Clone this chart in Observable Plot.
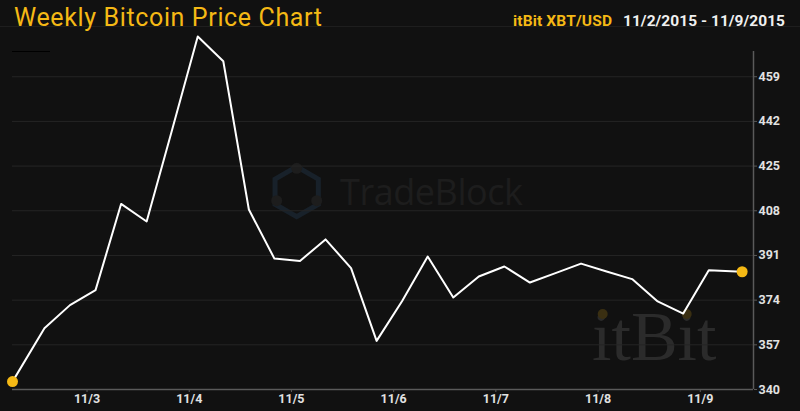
<!DOCTYPE html>
<html><head><meta charset="utf-8">
<script src="https://cdn.jsdelivr.net/npm/d3@7"></script>
<script src="https://cdn.jsdelivr.net/npm/@observablehq/plot@0.6"></script>
<style>
html,body{margin:0;padding:0;background:#111111;}
#wrap{position:relative;width:800px;height:411px;overflow:hidden;background:#111111;}
#deco,#chart{position:absolute;left:0;top:0;}
#chart svg{display:block;}
</style>
</head><body>
<div id="wrap"><svg id="deco" width="800" height="411"></svg><div id="chart"></div></div>
<script>
// ---- data ----
const times = [
  "2015-11-02 06:30","2015-11-02 14:00","2015-11-02 20:00",
  "2015-11-03 02:00","2015-11-03 08:00","2015-11-03 14:00","2015-11-03 20:00",
  "2015-11-04 02:00","2015-11-04 08:00","2015-11-04 14:00","2015-11-04 20:00",
  "2015-11-05 02:00","2015-11-05 08:00","2015-11-05 14:00","2015-11-05 20:00",
  "2015-11-06 02:00","2015-11-06 08:00","2015-11-06 14:00","2015-11-06 20:00",
  "2015-11-07 02:00","2015-11-07 08:00","2015-11-07 14:00","2015-11-07 20:00",
  "2015-11-08 02:00","2015-11-08 08:00","2015-11-08 14:00","2015-11-08 20:00",
  "2015-11-09 02:00","2015-11-09 09:50"
];
const prices = [
  343.0, 363.3, 372.1,
  377.8, 410.6, 403.9, 438.9,
  474.3, 464.9, 408.5, 389.8,
  388.9, 397.1, 386.2, 358.5,
  373.7, 390.6, 375.0, 383.0,
  386.8, 380.7, 384.3, 387.9,
  384.9, 382.0, 373.5, 368.9,
  385.4, 384.8
];
const xDomain = ["2015-11-02 06:30", "2015-11-09 12:30"];
const xTicks = ["2015-11-03","2015-11-04","2015-11-05","2015-11-06","2015-11-07","2015-11-08","2015-11-09"];
const yDomain = [340, 468.6];
const yTicks = [340, 357, 374, 391, 408, 425, 442, 459];
const titleText = "Weekly Bitcoin Price Chart";
const sourceText = "itBit XBT/USD";
const rangeText = "11/2/2015 - 11/9/2015";

// ---- build ----
const pt = d3.utcParse("%Y-%m-%d %H:%M");
const pd = d3.utcParse("%Y-%m-%d");
const data = times.map((t, i) => ({date: pt(t), price: prices[i]}));
const gold = "#f5b915";

const chart = Plot.plot({
  width: 800, height: 411,
  marginLeft: 12, marginRight: 47, marginTop: 51, marginBottom: 22,
  style: {background: "transparent", color: "#e2e2e2", fontFamily: "Roboto, 'Liberation Sans', sans-serif", fontSize: "12.5px"},
  x: {type: "utc", domain: xDomain.map(pt), label: null},
  y: {domain: yDomain, label: null},
  marks: [
    Plot.gridY(yTicks, {stroke: "#252525", strokeOpacity: 1, strokeWidth: 1}),
    Plot.ruleY([yDomain[0]], {stroke: "#5a5a5a", strokeWidth: 1.5}),
    Plot.ruleX([pt(xDomain[1])], {stroke: "#5a5a5a", strokeWidth: 1.5}),
    Plot.axisX(xTicks.map(pd), {tickFormat: d3.utcFormat("%-m/%-d"), tickSize: 3, tickPadding: 2, stroke: "#5a5a5a", fill: "#e2e2e2", fontWeight: "bold"}),
    Plot.axisY(yTicks, {anchor: "right", tickSize: 3, tickPadding: 2, stroke: "#5a5a5a", fill: "#e2e2e2", fontWeight: "bold"}),
    Plot.line(data, {x: "date", y: "price", stroke: "#ffffff", strokeWidth: 2}),
    Plot.dot(data, {x: "date", y: "price", filter: (d, i) => i === 0 || i === data.length - 1, r: 5.5, fill: gold, stroke: "none"})
  ]
});
document.getElementById("chart").appendChild(chart);

// ---- decoration: header + watermarks ----
const deco = d3.select("#deco");
deco.append("rect").attr("x", 0).attr("y", 26).attr("width", 800).attr("height", 1).attr("fill", "#1e1e1e");
deco.append("rect").attr("x", 12).attr("y", 51).attr("width", 38).attr("height", 1).attr("fill", "#000");
// TradeBlock logo
const hx = 296.7, hy = 191.7, hr = 25;
const hex = d3.range(6).map(k => { const a = -Math.PI/2 + k*Math.PI/3; return [hx + hr*Math.cos(a), hy + hr*Math.sin(a)]; });
deco.append("path").attr("d", "M" + hex.join("L") + "Z").attr("fill", "none").attr("stroke", "#18212a").attr("stroke-width", 5);
[[296.7,168.3],[276.7,200.7],[316.7,200.7]].forEach(([cx,cy]) => deco.append("circle").attr("cx", cx).attr("cy", cy).attr("r", 5.5).attr("fill", "#1d1d1d"));
deco.append("text").attr("x", 340).attr("y", 205).attr("text-anchor", "start").attr("font-family", "'Open Sans', sans-serif").attr("font-size", 36).attr("textLength", 183).attr("fill", "#1d1d1d").text("TradeBlock");
// itBit
deco.append("text").attr("x", 592).attr("y", 360).attr("text-anchor", "start").attr("font-family", "'Liberation Serif', 'DejaVu Serif', serif").attr("font-size", 70).attr("fill", "#2b2b2b").text("itBit");
[[602.7,314],[686.7,314]].forEach(([cx,cy]) => deco.append("circle").attr("cx", cx).attr("cy", cy).attr("r", 5).attr("fill", "#3a2f12"));

const chartSvg = d3.select(chart);
const hdr = chartSvg.append("g").attr("text-anchor", "start");
hdr.append("text").attr("x", 14).attr("y", 26).attr("text-anchor", "start").attr("font-family", "Roboto, sans-serif").attr("font-size", 25).attr("textLength", 308).attr("fill", gold).text(titleText);
hdr.append("text").attr("x", 623).attr("y", 26).attr("text-anchor", "start").attr("font-family", "Roboto, sans-serif").attr("font-weight", "bold").attr("font-size", 15.5).attr("textLength", 162).attr("fill", "#f0f0f0").text(rangeText);
hdr.append("text").attr("x", 513).attr("y", 26).attr("text-anchor", "start").attr("font-family", "Roboto, sans-serif").attr("font-weight", "bold").attr("font-size", 15.5).attr("textLength", 99).attr("fill", gold).text(sourceText);
</script>
</body></html>
